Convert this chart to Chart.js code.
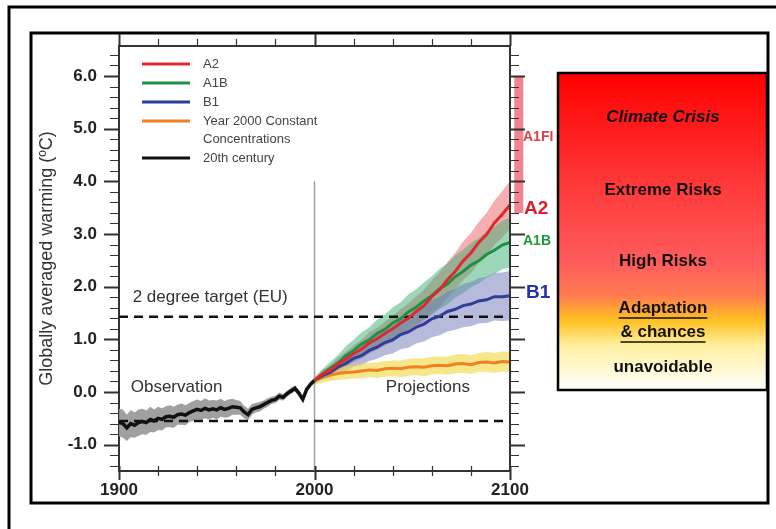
<!DOCTYPE html>
<html>
<head>
<meta charset="utf-8">
<script src="https://cdn.jsdelivr.net/npm/chart.js@4.4.1/dist/chart.umd.min.js"></script>
<style>
  body { margin: 0; background: #fff; }
  #wrap { width: 776px; height: 529px; }
</style>
</head>
<body>
<div id="wrap"><canvas id="warming-chart" width="776" height="529"></canvas></div>
<script>
// observed record, 20th century
const histYears = [1900, 1902, 1904, 1906, 1908, 1910, 1912, 1914, 1916, 1918,
  1920, 1922, 1924, 1926, 1928, 1930, 1932, 1934, 1936, 1938,
  1940, 1942, 1944, 1946, 1948, 1950, 1952, 1954, 1956, 1958,
  1960, 1962, 1964, 1966, 1968, 1970, 1972, 1974, 1976, 1978,
  1980, 1982, 1984, 1986, 1988, 1990, 1992, 1994, 1996, 1998, 2000];
const histTemp = [-0.58, -0.6, -0.68, -0.6, -0.63, -0.58, -0.56, -0.58, -0.52, -0.55,
  -0.5, -0.52, -0.47, -0.46, -0.48, -0.43, -0.42, -0.44, -0.39, -0.36,
  -0.33, -0.35, -0.31, -0.34, -0.32, -0.34, -0.3, -0.33, -0.31, -0.28,
  -0.29, -0.3, -0.38, -0.43, -0.33, -0.3, -0.28, -0.24, -0.2, -0.16,
  -0.14, -0.08, -0.1, -0.03, 0.02, 0.07, -0.02, -0.14, 0.05, 0.15, 0.22];
const histSpread = [0.26, 0.27, 0.25, 0.26, 0.24, 0.25, 0.24, 0.23, 0.24, 0.22,
  0.22, 0.21, 0.2, 0.21, 0.2, 0.19, 0.2, 0.19, 0.18, 0.19,
  0.19, 0.18, 0.19, 0.18, 0.17, 0.18, 0.17, 0.16, 0.17, 0.15,
  0.14, 0.13, 0.12, 0.11, 0.1, 0.09, 0.09, 0.08, 0.08, 0.07,
  0.07, 0.07, 0.06, 0.06, 0.06, 0.06, 0.06, 0.05, 0.05, 0.05, 0.05];

// projections
const projYears = [2000, 2004, 2008, 2012, 2016, 2020, 2024, 2028, 2032, 2036, 2040, 2044, 2048,
  2052, 2056, 2060, 2064, 2068, 2072, 2076, 2080, 2084, 2088, 2092, 2096, 2100];
const a2Temp = [0.22, 0.34, 0.41, 0.53, 0.62, 0.73, 0.81, 0.93, 1.01, 1.11, 1.2, 1.31, 1.4,
  1.53, 1.64, 1.81, 1.94, 2.13, 2.29, 2.49, 2.64, 2.84, 2.99, 3.21, 3.37, 3.55];
const a2Spread = [0.05, 0.08, 0.1, 0.12, 0.14, 0.16, 0.18, 0.2, 0.21, 0.23, 0.25, 0.26, 0.28,
  0.29, 0.3, 0.31, 0.33, 0.34, 0.35, 0.37, 0.38, 0.39, 0.41, 0.42, 0.44, 0.45];
const a1bTemp = [0.22, 0.34, 0.45, 0.55, 0.69, 0.79, 0.91, 0.99, 1.11, 1.19, 1.31, 1.39, 1.52,
  1.61, 1.73, 1.83, 1.96, 2.05, 2.19, 2.29, 2.41, 2.49, 2.61, 2.69, 2.79, 2.84];
const a1bSpread = [0.05, 0.09, 0.12, 0.15, 0.18, 0.2, 0.22, 0.24, 0.26, 0.28, 0.3, 0.31, 0.33,
  0.34, 0.35, 0.37, 0.38, 0.39, 0.4, 0.41, 0.42, 0.43, 0.44, 0.45, 0.46, 0.47];
const b1Temp = [0.22, 0.31, 0.37, 0.47, 0.54, 0.64, 0.69, 0.79, 0.85, 0.94, 0.99, 1.09, 1.14,
  1.23, 1.29, 1.39, 1.44, 1.53, 1.57, 1.64, 1.67, 1.73, 1.75, 1.81, 1.81, 1.83];
const b1Spread = [0.05, 0.08, 0.1, 0.12, 0.14, 0.16, 0.18, 0.2, 0.22, 0.24, 0.26, 0.28, 0.3,
  0.31, 0.33, 0.35, 0.36, 0.38, 0.39, 0.41, 0.42, 0.43, 0.44, 0.45, 0.46, 0.47];
const constTemp = [0.22, 0.28, 0.32, 0.35, 0.37, 0.38, 0.4, 0.42, 0.41, 0.44, 0.45, 0.44, 0.47,
  0.48, 0.47, 0.5, 0.51, 0.5, 0.53, 0.54, 0.52, 0.56, 0.57, 0.55, 0.58, 0.57];
const constSpread = [0.08, 0.1, 0.11, 0.12, 0.13, 0.13, 0.14, 0.14, 0.15, 0.15, 0.15, 0.16, 0.16,
  0.16, 0.17, 0.17, 0.17, 0.17, 0.18, 0.18, 0.18, 0.18, 0.19, 0.19, 0.19, 0.19];

// reference levels and A1FI likely range at 2100
const targetLevel = 1.43;
const baseLevel = -0.55;
const a1fiRange = [3.4, 6.0];

const xTicks = [1900, 2000, 2100];
const yTicks = [-1, 0, 1, 2, 3, 4, 5, 6];

const legendLabels = [['A2'], ['A1B'], ['B1'], ['Year 2000 Constant', 'Concentrations'], ['20th century']];
const legendColors = ['#e3262e', '#1f8f45', '#2f3d98', '#f08020', '#111111'];

const FONT = '"Liberation Sans", Arial, sans-serif';

const pts = (xs, ys) => xs.map((x, i) => ({x: x, y: ys[i]}));
const edge = (xs, ys, sp, sign) => xs.map((x, i) => ({x: x, y: ys[i] + sign * sp[i]}));

function bandPair(xs, ys, sp, color, order) {
    return [
        {data: edge(xs, ys, sp, 1), fill: '+1', backgroundColor: color, borderWidth: 0, pointRadius: 0, order: order},
        {data: edge(xs, ys, sp, -1), fill: false, borderWidth: 0, pointRadius: 0, order: order}
    ];
}
function line(xs, ys, color, width, order) {
    return {data: pts(xs, ys), borderColor: color, borderWidth: width, pointRadius: 0, fill: false, tension: 0, order: order};
}

const datasets = [
    ...bandPair(projYears, a2Temp, a2Spread, 'rgba(236,95,100,0.5)', 20),
    ...bandPair(projYears, a1bTemp, a1bSpread, 'rgba(60,175,115,0.5)', 19),
    ...bandPair(projYears, b1Temp, b1Spread, 'rgba(110,120,185,0.5)', 18),
    ...bandPair(projYears, constTemp, constSpread, 'rgba(240,215,60,0.6)', 17),
    ...bandPair(histYears, histTemp, histSpread, 'rgba(150,150,150,0.9)', 16),
    {data: [{x: 2000, y: -1.5}, {x: 2000, y: 4.0}], borderColor: '#a0a0a0', borderWidth: 1.5, pointRadius: 0, order: 15},
    {data: [{x: 1900, y: targetLevel}, {x: 2100, y: targetLevel}], borderColor: '#111', borderWidth: 2.5, borderDash: [9, 6], pointRadius: 0, order: 6},
    {data: [{x: 1900, y: baseLevel}, {x: 2100, y: baseLevel}], borderColor: '#111', borderWidth: 2.5, borderDash: [9, 6], pointRadius: 0, order: 6},
    {data: [{x: 2104.5, y: a1fiRange[0]}, {x: 2104.5, y: a1fiRange[1]}], borderColor: 'rgba(240,110,125,0.85)', borderWidth: 9, borderCapStyle: 'butt', pointRadius: 0, clip: false, order: 6},
    line(histYears, histTemp, legendColors[4], 3.5, 5),
    line(projYears, constTemp, legendColors[3], 3, 4),
    line(projYears, b1Temp, legendColors[2], 3, 3),
    line(projYears, a1bTemp, legendColors[1], 3, 2),
    line(projYears, a2Temp, legendColors[0], 3, 1)
];

const decorations = {
    id: 'decorations',
    beforeDraw(chart) {
        const ctx = chart.ctx;
        ctx.save();
        ctx.fillStyle = '#fff';
        ctx.fillRect(0, 0, chart.width, chart.height);
        ctx.strokeStyle = '#000';
        ctx.lineWidth = 3;
        ctx.strokeRect(9, 7, 820, 600);
        ctx.strokeRect(31, 33, 737, 470);
        // risk scale box
        const g = ctx.createLinearGradient(0, 73, 0, 390);
        g.addColorStop(0, '#ff0000');
        g.addColorStop(0.35, '#ff3838');
        g.addColorStop(0.6, '#ff5c5c');
        g.addColorStop(0.7, '#ff7a50');
        g.addColorStop(0.78, '#ffc020');
        g.addColorStop(0.86, '#fff0a0');
        g.addColorStop(1, '#ffffff');
        ctx.fillStyle = g;
        ctx.fillRect(558, 73, 209, 317);
        ctx.lineWidth = 2.5;
        ctx.strokeRect(558, 73, 209, 317);
        ctx.restore();
    },
    afterDatasetsDraw(chart) {
        const ctx = chart.ctx;
        const {left, right, top, bottom} = chart.chartArea;
        const xs = chart.scales.x, ys = chart.scales.y;
        ctx.save();
        ctx.strokeStyle = '#333';
        ctx.lineWidth = 2;
        ctx.beginPath();
        ctx.moveTo(left, top); ctx.lineTo(right, top); ctx.lineTo(right, bottom);
        ctx.stroke();
        // y tick marks every 0.2
        for (let i = -7; i <= 32; i++) {
            const py = Math.round(ys.getPixelForValue(i / 5)) + 0.5;
            const major = i % 5 === 0;
            ctx.lineWidth = major ? 2 : 1.2;
            ctx.beginPath();
            ctx.moveTo(left - (major ? 15 : 9), py); ctx.lineTo(left, py);
            ctx.moveTo(right, py); ctx.lineTo(right + (major ? 15 : 9), py);
            ctx.stroke();
        }
        // x tick marks every 20 years
        for (let yr = 1900; yr <= 2100; yr += 20) {
            const px = Math.round(xs.getPixelForValue(yr)) + 0.5;
            const major = yr % 100 === 0;
            ctx.lineWidth = major ? 2 : 1.2;
            ctx.beginPath();
            ctx.moveTo(px, top); ctx.lineTo(px, top - (major ? 12 : 7));
            ctx.moveTo(px, bottom - 5); ctx.lineTo(px, bottom + (major ? 9 : 5));
            ctx.stroke();
        }
        // annotations in the plot
        ctx.fillStyle = '#333';
        ctx.font = '17px ' + FONT;
        ctx.textBaseline = 'middle';
        ctx.textAlign = 'left';
        ctx.fillText('2 degree target (EU)', xs.getPixelForValue(1907), ys.getPixelForValue(1.79));
        ctx.fillText('Observation', xs.getPixelForValue(1906), ys.getPixelForValue(0.08));
        ctx.fillText('Projections', xs.getPixelForValue(2036.5), ys.getPixelForValue(0.08));
        // scenario labels at 2100
        ctx.font = 'bold 14px ' + FONT;
        ctx.fillStyle = '#d8424a';
        ctx.fillText('A1FI', right + 13, ys.getPixelForValue(4.83));
        ctx.fillStyle = '#1f9a3a';
        ctx.fillText('A1B', right + 13, ys.getPixelForValue(2.87));
        ctx.font = 'bold 19px ' + FONT;
        ctx.fillStyle = '#d8202a';
        ctx.fillText('A2', right + 14, ys.getPixelForValue(3.48));
        ctx.fillStyle = '#2233b0';
        ctx.fillText('B1', right + 16, ys.getPixelForValue(1.88));
        // legend
        ctx.font = '13px ' + FONT;
        ctx.fillStyle = '#444';
        let ly = 64;
        legendLabels.forEach((lines, i) => {
            ctx.strokeStyle = legendColors[i];
            ctx.lineWidth = 3;
            ctx.beginPath();
            ctx.moveTo(142, ly); ctx.lineTo(190, ly);
            ctx.stroke();
            lines.forEach((t, j) => ctx.fillText(t, 203, ly + j * 18));
            ly += 19 + (lines.length - 1) * 18;
        });
        ctx.restore();
    },
    afterDraw(chart) {
        const ctx = chart.ctx;
        ctx.save();
        ctx.fillStyle = '#111';
        ctx.textAlign = 'center';
        ctx.textBaseline = 'middle';
        const cx = 663;
        ctx.font = 'italic bold 17px ' + FONT;
        ctx.fillText('Climate Crisis', cx, 117);
        ctx.font = 'bold 17px ' + FONT;
        ctx.fillText('Extreme Risks', cx, 190);
        ctx.fillText('High Risks', cx, 261);
        ctx.fillText('Adaptation', cx, 308);
        ctx.fillText('& chances', cx, 332);
        ctx.fillText('unavoidable', cx, 367);
        ctx.strokeStyle = '#111';
        ctx.lineWidth = 1.5;
        [['Adaptation', 308], ['& chances', 332]].forEach(([t, y]) => {
            const w = ctx.measureText(t).width;
            ctx.beginPath();
            ctx.moveTo(cx - w / 2, y + 10); ctx.lineTo(cx + w / 2, y + 10);
            ctx.stroke();
        });
        ctx.restore();
    }
};

const tickFont = {family: FONT, size: 17, weight: 'bold'};

new Chart(document.getElementById('warming-chart'), {
    type: 'line',
    data: {datasets: datasets},
    options: {
        responsive: false,
        animation: false,
        layout: {padding: {left: 30, top: 46, right: 266, bottom: 0}},
        plugins: {legend: {display: false}, tooltip: {enabled: false}},
        scales: {
            x: {
                type: 'linear', min: 1900, max: 2100,
                afterBuildTicks: s => { s.ticks = xTicks.map(v => ({value: v})); },
                afterFit: s => { s.height = 58; },
                ticks: {font: tickFont, color: '#222', padding: 9, maxRotation: 0, autoSkip: false, callback: v => String(v)},
                grid: {display: false, drawTicks: false},
                border: {display: true, color: '#333', width: 2}
            },
            y: {
                min: -1.5, max: 6.57,
                afterBuildTicks: s => { s.ticks = yTicks.map(v => ({value: v})); },
                afterFit: s => { s.width = 89; },
                ticks: {font: tickFont, color: '#222', padding: 22, callback: v => v.toFixed(1)},
                grid: {display: false, drawTicks: false},
                border: {display: true, color: '#333', width: 2},
                title: {display: true, text: 'Globally averaged warming (ºC)', color: '#333',
                    font: {family: FONT, size: 18}, padding: {top: 6, bottom: 0}}
            }
        }
    },
    plugins: [decorations]
});
</script>
</body>
</html>
